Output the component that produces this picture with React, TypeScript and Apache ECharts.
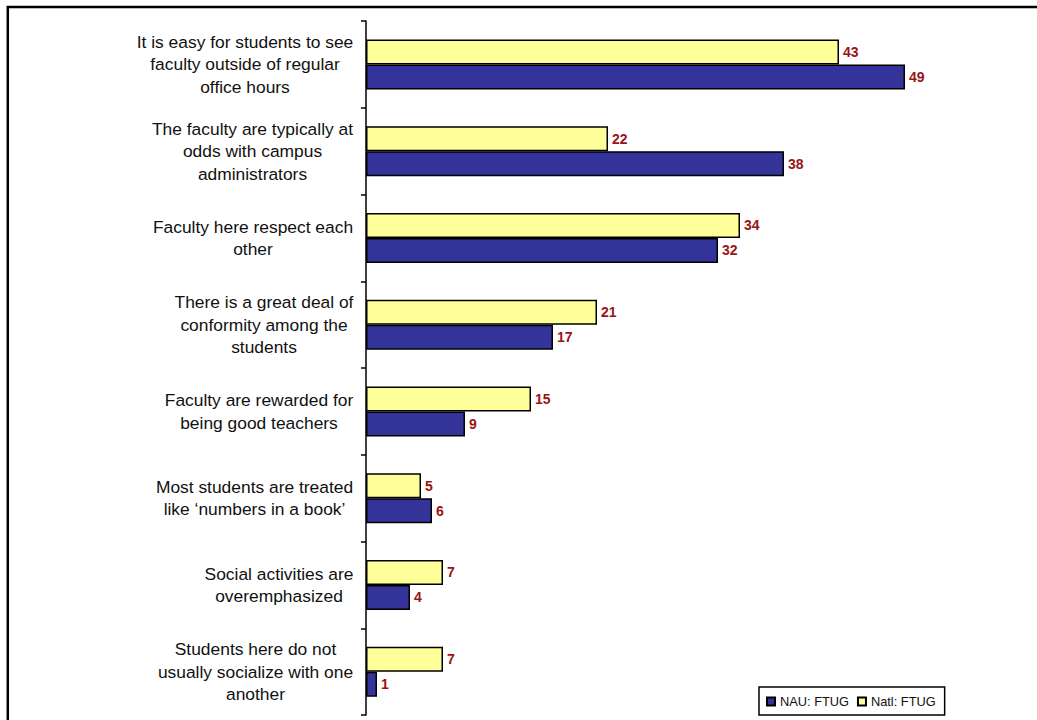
import React, { useEffect, useRef } from "react";
import * as echarts from "echarts";

const categories: string[][] = [
  ["It is easy for students to see", "faculty outside of regular", "office hours"],
  ["The faculty are typically at", "odds with campus", "administrators"],
  ["Faculty here respect each", "other"],
  ["There is a great deal of", "conformity among the", "students"],
  ["Faculty are rewarded for", "being good teachers"],
  ["Most students are treated", "like \u2018numbers in a book\u2019"],
  ["Social activities are", "overemphasized"],
  ["Students here do not", "usually socialize with one", "another"],
];
const natlValues = [43, 22, 34, 21, 15, 5, 7, 7];
const nauValues = [49, 38, 32, 17, 9, 6, 4, 1];
const seriesNames = ["NAU: FTUG", "Natl: FTUG"];

const LABEL_SIZE = 17.4;
const LABEL_FONT = `${LABEL_SIZE}px 'Liberation Sans', Arial, sans-serif`;

function measure(text: string): number {
  const c = document.createElement("canvas");
  const ctx = c.getContext("2d");
  if (!ctx) return text.length * 8;
  ctx.font = LABEL_FONT;
  return ctx.measureText(text).width;
}

export default function App() {
  const ref = useRef<HTMLDivElement>(null);
  useEffect(() => {
    if (!ref.current) return;
    const chart = echarts.init(ref.current, undefined, { renderer: "svg" });
    const rich: Record<string, any> = {};
    categories.forEach((lines, i) => {
      const w = Math.ceil(Math.max(...lines.map(measure))) + 1;
      rich["c" + i] = {
        width: w,
        align: "center",
        fontSize: LABEL_SIZE,
        lineHeight: 22.5,
        fontFamily: "'Liberation Sans', Arial, sans-serif",
        color: "#111",
      };
    });
    const catKeys = categories.map((_, i) => String(i));
    const labelStyle = {
      show: true,
      position: "right" as const,
      distance: 4,
      color: "#991515",
      fontWeight: "bold" as const,
      fontSize: 14,
      fontFamily: "'Liberation Sans', Arial, sans-serif",
    };
    chart.setOption({
      animation: false,
      backgroundColor: "#fff",
      grid: { left: 366, top: 21, right: 11, bottom: 5, containLabel: false },
      xAxis: {
        type: "value",
        min: 0,
        max: 60,
        show: false,
        splitLine: { show: false },
      },
      yAxis: {
        type: "category",
        inverse: true,
        data: catKeys,
        axisLine: { show: true, lineStyle: { color: "#000", width: 1.5 } },
        axisTick: { show: true, length: 5, lineStyle: { color: "#000", width: 1.5 } },
        axisLabel: {
          margin: 12,
          align: "right",
          formatter: (v: string) => {
            const i = Number(v);
            return categories[i].map((l) => `{c${i}|${l}}`).join("\n");
          },
          rich,
        },
      },
      legend: {
        data: seriesNames,
        left: 759,
        top: 687,
        orient: "horizontal",
        borderColor: "#000",
        borderWidth: 1.5,
        borderRadius: 0,
        padding: [8, 9, 7, 7],
        itemWidth: 8,
        itemHeight: 8,
        itemGap: 8,
        icon: "rect",
        textStyle: {
          fontSize: 12.8,
          color: "#111",
          fontFamily: "'Liberation Sans', Arial, sans-serif",
        },
      },
      graphic: [
        {
          type: "rect",
          shape: { x: 7.8, y: 7, width: 1200, height: 900 },
          style: { fill: "none", stroke: "#000", lineWidth: 2.5 },
          silent: true,
          z: 100,
        },
      ],
      series: [
        {
          name: seriesNames[1],
          type: "bar",
          data: natlValues,
          barWidth: 25,
          barGap: "0%",
          itemStyle: { color: "#FFFF99", borderColor: "#000", borderWidth: 1.5 },
          label: labelStyle,
        },
        {
          name: seriesNames[0],
          type: "bar",
          data: nauValues,
          barWidth: 25,
          barGap: "0%",
          itemStyle: { color: "#333399", borderColor: "#000", borderWidth: 1.5 },
          label: labelStyle,
        },
      ],
    });
    return () => chart.dispose();
  }, []);
  return (
    <div
      ref={ref}
      style={{ position: "absolute", left: 0, top: 0, width: 1037, height: 720 }}
    />
  );
}
